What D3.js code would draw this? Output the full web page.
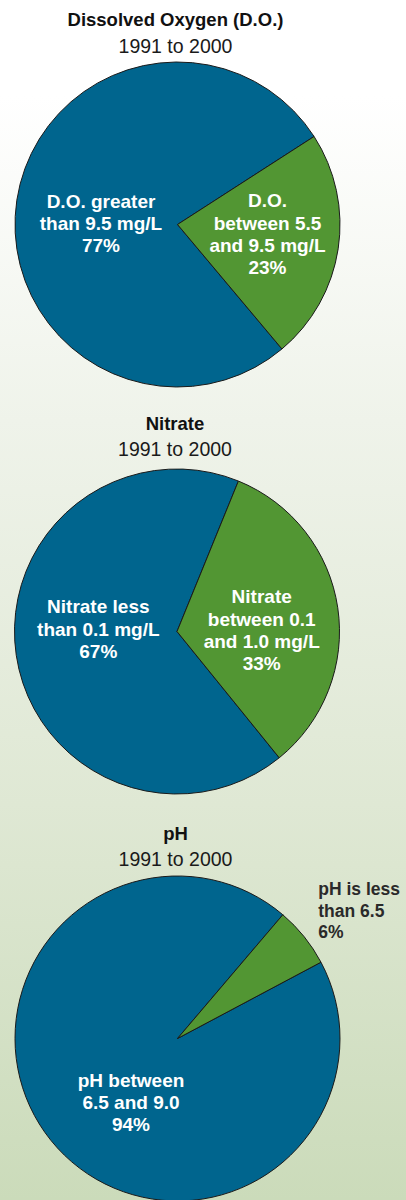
<!DOCTYPE html>
<html>
<head>
<meta charset="utf-8">
<script src="https://cdn.jsdelivr.net/npm/d3@7"></script>
<style>
  html, body { margin: 0; padding: 0; background: #fff; }
  svg { display: block; }
  text { font-family: "Liberation Sans", Arial, sans-serif; }
</style>
</head>
<body>
<svg id="chart" width="406" height="1200"></svg>
<script>
// ---- data ----
const titles = ["Dissolved Oxygen (D.O.)", "Nitrate", "pH"];
const subtitles = ["1991 to 2000", "1991 to 2000", "1991 to 2000"];

const doCategories = ["D.O. greater than 9.5 mg/L", "D.O. between 5.5 and 9.5 mg/L"];
const doValues = [77, 23];
const doLabels = [["D.O. greater", "than 9.5 mg/L"], ["D.O.", "between 5.5", "and 9.5 mg/L"]];

const nitrateCategories = ["Nitrate less than 0.1 mg/L", "Nitrate between 0.1 and 1.0 mg/L"];
const nitrateValues = [67, 33];
const nitrateLabels = [["Nitrate less", "than 0.1 mg/L"], ["Nitrate", "between 0.1", "and 1.0 mg/L"]];

const phCategories = ["pH between 6.5 and 9.0", "pH is less than 6.5"];
const phValues = [94, 6];
const phLabels = [["pH between", "6.5 and 9.0"], ["pH is less", "than 6.5"]];

// ---- layout / style ----
const colors = ["#00658e", "#529633"];
const radius = 162.5;
const layouts = [
  { cx: 177.5, cy: 224.5, titleY: 26, subY: 53, start: 140,
    labels: [{dx: -76.5, dy: -16.8, anchor: "middle", fill: "#fff", size: 19, lh: 22.2},
             {dx: 90, dy: -17.2, anchor: "middle", fill: "#fff", size: 19, lh: 22.2}] },
  { cx: 177, cy: 631.5, titleY: 429.5, subY: 456, start: 141,
    labels: [{dx: -78.7, dy: -18.2, anchor: "middle", fill: "#fff", size: 19, lh: 22.2},
             {dx: 84.7, dy: -28.2, anchor: "middle", fill: "#fff", size: 19, lh: 22.2}] },
  { cx: 177.5, cy: 1038.5, titleY: 839.5, subY: 866, start: 62,
    labels: [{dx: -46.5, dy: 48.2, anchor: "middle", fill: "#fff", size: 19, lh: 22.2},
             {dx: 140.8, dy: -143.5, anchor: "start", fill: "#2a2a2a", size: 17.5, lh: 21.7}] }
];
const datasets = [
  { cats: doCategories, vals: doValues, lines: doLabels },
  { cats: nitrateCategories, vals: nitrateValues, lines: nitrateLabels },
  { cats: phCategories, vals: phValues, lines: phLabels }
];

const svg = d3.select("#chart");
const defs = svg.append("defs");
const grad = defs.append("linearGradient").attr("id", "bg")
  .attr("x1", 0).attr("y1", 0).attr("x2", 0).attr("y2", 1);
[[0, "#ffffff"], [0.08, "#ffffff"], [0.35, "#eff3ea"], [0.67, "#dfe8d4"], [1, "#cbdbba"]]
  .forEach(([o, c]) => grad.append("stop").attr("offset", o).attr("stop-color", c));
svg.append("rect").attr("width", 406).attr("height", 1200).attr("fill", "url(#bg)");

const color = d3.scaleOrdinal().range(colors);
const arc = d3.arc().innerRadius(0).outerRadius(radius);
const fmt = d => d + "%";

datasets.forEach((ds, i) => {
  const L = layouts[i];
  const a0 = L.start * Math.PI / 180;
  const pie = d3.pie().sort(null).value(d => d.v).startAngle(a0).endAngle(a0 + 2 * Math.PI);
  const data = ds.cats.map((c, j) => ({ c, v: ds.vals[j], lines: ds.lines[j], j }));
  color.domain(ds.cats);

  svg.append("text").attr("x", L.cx - 2).attr("y", L.titleY)
    .attr("text-anchor", "middle").attr("font-weight", "bold").attr("font-size", 18.5)
    .attr("fill", "#111").text(titles[i]);
  svg.append("text").attr("x", L.cx - 2).attr("y", L.subY)
    .attr("text-anchor", "middle").attr("font-size", 19.5)
    .attr("fill", "#1a1a1a").text(subtitles[i]);

  const g = svg.append("g").attr("transform", `translate(${L.cx},${L.cy})`);
  g.selectAll("path").data(pie(data)).join("path")
    .attr("d", arc)
    .attr("fill", d => color(d.data.c))
    .attr("stroke", "#1a1a1a").attr("stroke-width", 1)
    .attr("stroke-linejoin", "round");

  data.forEach((d, j) => {
    const lp = L.labels[j];
    const t = g.append("text")
      .attr("x", lp.dx).attr("y", lp.dy)
      .attr("text-anchor", lp.anchor).attr("font-weight", "bold")
      .attr("font-size", lp.size).attr("fill", lp.fill);
    const lines = d.lines.concat([fmt(d.v)]);
    lines.forEach((ln, k) => {
      t.append("tspan").attr("x", lp.dx).attr("y", lp.dy + k * lp.lh).text(ln);
    });
  });
});
</script>
</body>
</html>
